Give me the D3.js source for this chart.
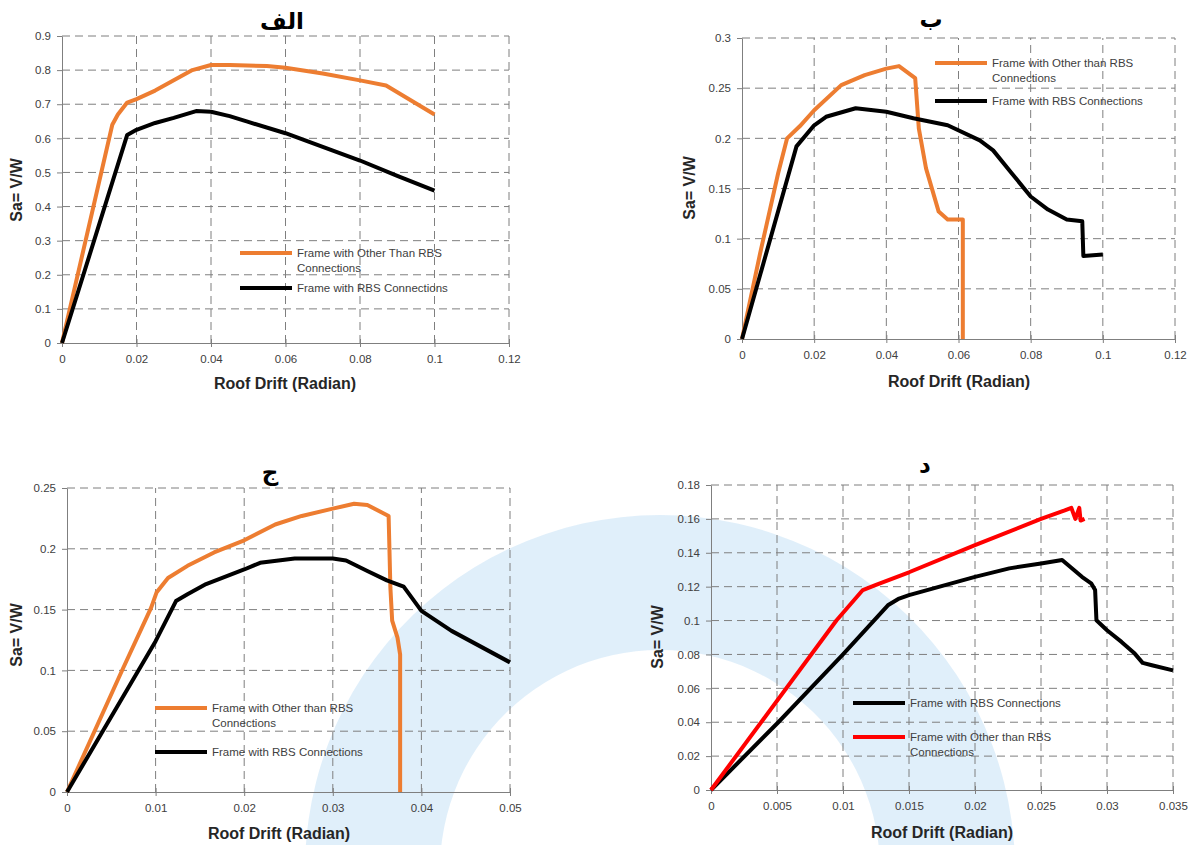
<!DOCTYPE html>
<html>
<head>
<meta charset="utf-8">
<script src="https://cdn.jsdelivr.net/npm/d3@7"></script>
<style>
  body { margin: 0; background: #fff; }
  svg { display: block; }
  .tick text { font-family: "Liberation Sans", Arial, sans-serif; font-size: 11.5px; fill: #404040; }
  .axis path, .axis line { stroke: #7f7f7f; }
  .grid line { stroke: #7f7f7f; stroke-dasharray: 8,5; }
  .atitle { font-family: "Liberation Sans Narrow", "Liberation Sans", Arial, sans-serif; font-weight: bold; font-size: 16px; fill: #262626; }
  .ptitle { font-family: "DejaVu Sans", sans-serif; font-weight: bold; font-size: 23px; fill: #000; }
  .legend text { font-family: "Liberation Sans", Arial, sans-serif; font-size: 11.5px; fill: #404040; }
</style>
</head>
<body>
<svg id="chart" width="1193" height="845"></svg>
<script>
// panel A (الف)
var aOther = [[0,0],[0.0135,0.64],[0.015,0.67],[0.0175,0.705],[0.02,0.715],[0.025,0.74],[0.03,0.77],[0.035,0.80],[0.04,0.815],[0.045,0.815],[0.055,0.812],[0.06,0.807],[0.07,0.79],[0.08,0.77],[0.087,0.755],[0.1,0.67]];
var aRbs = [[0,0],[0.0175,0.61],[0.02,0.625],[0.025,0.645],[0.03,0.66],[0.036,0.68],[0.04,0.678],[0.045,0.665],[0.05,0.648],[0.06,0.615],[0.07,0.575],[0.08,0.535],[0.09,0.49],[0.1,0.447]];
// panel B (ب)
var bOther = [[0,0],[0.005,0.085],[0.01,0.165],[0.0125,0.2],[0.016,0.212],[0.02,0.228],[0.0275,0.253],[0.034,0.263],[0.04,0.2695],[0.0435,0.272],[0.048,0.26],[0.049,0.21],[0.0495,0.2],[0.051,0.17],[0.0545,0.127],[0.057,0.119],[0.0612,0.119],[0.0612,0]];
var bRbs = [[0,0],[0.0151,0.192],[0.02,0.213],[0.0233,0.2215],[0.0315,0.23],[0.04,0.2265],[0.0475,0.22],[0.057,0.213],[0.0659,0.198],[0.0696,0.188],[0.0748,0.165],[0.08,0.142],[0.0848,0.129],[0.09,0.119],[0.0943,0.1174],[0.0946,0.0827],[0.1,0.0843]];
// panel C (ج)
var cOther = [[0,0],[0.0062,0.0997],[0.0095,0.1516],[0.0101,0.164],[0.0114,0.176],[0.0136,0.186],[0.0166,0.197],[0.02,0.207],[0.0235,0.22],[0.0265,0.227],[0.03,0.233],[0.0324,0.237],[0.0339,0.236],[0.0363,0.227],[0.0365,0.168],[0.0367,0.141],[0.0373,0.127],[0.0376,0.113],[0.0376,0]];
var cRbs = [[0,0],[0.01,0.124],[0.0123,0.157],[0.0136,0.1626],[0.0157,0.171],[0.02,0.183],[0.0218,0.1885],[0.0257,0.192],[0.03,0.192],[0.0315,0.1904],[0.0339,0.1817],[0.0361,0.174],[0.038,0.1689],[0.04,0.149],[0.0434,0.1325],[0.05,0.1066]];
// panel D (د)
var dRbs = [[0,0],[0.0051,0.04],[0.01,0.08],[0.0134,0.109],[0.01425,0.113],[0.015,0.115],[0.02,0.1258],[0.0226,0.1308],[0.025,0.1337],[0.0266,0.1357],[0.0281,0.1258],[0.0288,0.122],[0.0291,0.118],[0.0292,0.1002],[0.03,0.0943],[0.0311,0.0874],[0.0321,0.0805],[0.0327,0.075],[0.0334,0.0736],[0.035,0.0706]];
var dOther = [[0,0],[0.0095,0.1],[0.0115,0.118],[0.0125,0.121],[0.015,0.1285],[0.02,0.1445],[0.025,0.16],[0.0268,0.165],[0.0273,0.1665],[0.0276,0.16],[0.0279,0.1665],[0.028,0.159],[0.0283,0.16]];

var ticksX12 = [0,0.02,0.04,0.06,0.08,0.1,0.12];
var ticksX05 = [0,0.01,0.02,0.03,0.04,0.05];
var ticksX035 = [0,0.005,0.01,0.015,0.02,0.025,0.03,0.035];
var ticksY09 = [0,0.1,0.2,0.3,0.4,0.5,0.6,0.7,0.8,0.9];
var ticksY03 = [0,0.05,0.1,0.15,0.2,0.25,0.3];
var ticksY025 = [0,0.05,0.1,0.15,0.2,0.25];
var ticksY018 = [0,0.02,0.04,0.06,0.08,0.1,0.12,0.14,0.16,0.18];

var titles = ["الف","ب","ج","د"];
var otherThan = "Frame with Other than RBS";
var withRbs = "Frame with RBS Connections";

var ORANGE = "#ed7d31", BLACK = "#000", RED = "#ff0000";

var panels = [
  {box:{l:62,t:36,r:509,b:343}, title:titles[0], tx:[282,21], yt:[16,190], xt:[285,383],
   xTicks:ticksX12, yTicks:ticksY09,
   series:[{d:aOther,c:ORANGE},{d:aRbs,c:BLACK}],
   legend:{x:240,y:253,items:[{c:ORANGE,t:["Frame with Other Than RBS","Connections"]},{c:BLACK,t:[withRbs],dy:35}]}},
  {box:{l:742,t:38,r:1175,b:339}, title:titles[1], tx:[931,19], yt:[689,188], xt:[959,381],
   xTicks:ticksX12, yTicks:ticksY03,
   series:[{d:bOther,c:ORANGE},{d:bRbs,c:BLACK}],
   legend:{x:935,y:63,items:[{c:ORANGE,t:[otherThan,"Connections"]},{c:BLACK,t:[withRbs],dy:38}]}},
  {box:{l:67,t:488,r:510,b:792}, title:titles[2], tx:[270,472], yt:[16,635], xt:[279,833],
   xTicks:ticksX05, yTicks:ticksY025,
   series:[{d:cOther,c:ORANGE},{d:cRbs,c:BLACK}],
   legend:{x:155,y:708,items:[{c:ORANGE,t:[otherThan,"Connections"]},{c:BLACK,t:[withRbs],dy:44}]}},
  {box:{l:711,t:485,r:1173,b:790}, title:titles[3], tx:[925,465], yt:[657,637], xt:[942,832],
   xTicks:ticksX035, yTicks:ticksY018,
   series:[{d:dRbs,c:BLACK},{d:dOther,c:RED}],
   legend:{x:853,y:703,items:[{c:BLACK,t:[withRbs]},{c:RED,t:[otherThan,"Connections"],dy:34}]}}
];

var fmt = function(v){ return String(+v.toFixed(3)); };
var svg = d3.select("#chart");
svg.append("rect").attr("width",1193).attr("height",845).attr("fill","#fff");

// faint watermark ring behind the lower panels
svg.append("path")
    .attr("transform","translate(660,870)")
    .attr("d", d3.arc().innerRadius(220).outerRadius(355).startAngle(-Math.PI*0.56).endAngle(Math.PI*0.56)())
    .attr("fill","#d6e9f8").attr("opacity",0.75);

panels.forEach(function(p){
    var b = p.box,
        xScale = d3.scaleLinear().domain([0, d3.max(p.xTicks)]).range([b.l, b.r]),
        yScale = d3.scaleLinear().domain([0, d3.max(p.yTicks)]).range([b.b, b.t]),
        g = svg.append("g");

    // dashed grid
    var grid = g.append("g").attr("class","grid");
    grid.selectAll(".gx").data(p.xTicks.slice(1)).enter().append("line")
        .attr("x1", function(d){return xScale(d)}).attr("x2", function(d){return xScale(d)})
        .attr("y1", b.b).attr("y2", b.t);
    grid.selectAll(".gy").data(p.yTicks.slice(1)).enter().append("line")
        .attr("y1", function(d){return yScale(d)}).attr("y2", function(d){return yScale(d)})
        .attr("x1", b.l).attr("x2", b.r);

    var xAxis = d3.axisBottom(xScale).tickValues(p.xTicks).tickSizeInner(4).tickSizeOuter(0).tickPadding(8).tickFormat(fmt),
        yAxis = d3.axisLeft(yScale).tickValues(p.yTicks).tickSizeInner(5).tickSizeOuter(0).tickPadding(6).tickFormat(fmt);

    g.append("g").attr("class","x axis").attr("transform","translate(0,"+b.b+")").call(xAxis);
    g.append("g").attr("class","y axis").attr("transform","translate("+b.l+",0)").call(yAxis);
    g.selectAll(".x.axis .tick line").attr("y1",-4);

    var line = d3.line()
        .x(function(d){return xScale(d[0])})
        .y(function(d){return yScale(d[1])});

    p.series.forEach(function(s){
        g.append("path").datum(s.d).attr("d", line)
            .attr("fill","none").attr("stroke", s.c).attr("stroke-width",4)
            .attr("stroke-linejoin","round");
    });

    // legend
    var lg = g.append("g").attr("class","legend"), yy = p.legend.y;
    p.legend.items.forEach(function(it){
        yy += (it.dy || 0);
        lg.append("line").attr("x1",p.legend.x).attr("x2",p.legend.x+52)
            .attr("y1",yy).attr("y2",yy).attr("stroke",it.c).attr("stroke-width",4);
        it.t.forEach(function(txt,i){
            lg.append("text").attr("x",p.legend.x+57).attr("y",yy+i*15).attr("dy","0.35em").text(txt);
        });
    });

    g.append("text").attr("class","ptitle").attr("x",p.tx[0]).attr("y",p.tx[1])
        .attr("text-anchor","middle").attr("dy","0.35em").attr("direction","rtl").text(p.title);
    g.append("text").attr("class","atitle").attr("text-anchor","middle")
        .attr("transform","translate("+p.yt[0]+","+p.yt[1]+") rotate(-90)").attr("dy","0.35em").text("Sa= V/W");
    g.append("text").attr("class","atitle").attr("text-anchor","middle")
        .attr("x",p.xt[0]).attr("y",p.xt[1]).attr("dy","0.35em").text("Roof Drift (Radian)");
});
</script>
</body>
</html>
